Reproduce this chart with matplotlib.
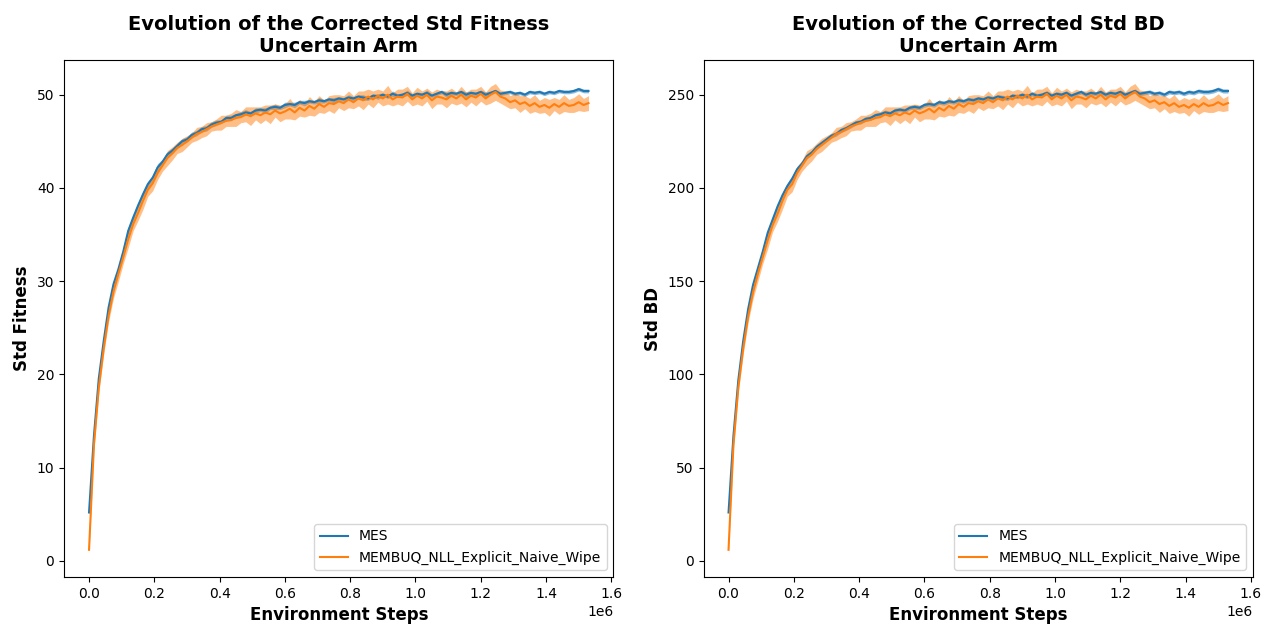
import numpy as np
import matplotlib
matplotlib.use("Agg")
import matplotlib.pyplot as plt

# environment steps (one entry every 15k steps)
steps = np.arange(0, 1530001, 15000)

labels = ["MES", "MEMBUQ_NLL_Explicit_Naive_Wipe"]

# std fitness, mean over seeds
fit_mes = [5.2, 13.4, 19.6, 23.6, 27.2, 29.7, 31.3, 33.2, 35.4, 36.8,
           38.1, 39.3, 40.4, 41.1, 42.2, 42.8, 43.6, 44.0, 44.5, 45.0,
           45.2, 45.7, 45.9, 46.3, 46.4, 46.8, 47.0, 47.1, 47.5, 47.5,
           47.8, 47.9, 48.1, 48.0, 48.3, 48.4, 48.3, 48.6, 48.7, 48.6,
           48.9, 49.0, 48.9, 49.2, 49.1, 49.3, 49.2, 49.4, 49.3, 49.5,
           49.4, 49.6, 49.5, 49.7, 49.6, 49.8, 49.7, 49.6, 49.9, 49.8,
           50.0, 49.8, 50.1, 49.9, 50.0, 50.2, 49.9, 50.1, 50.0, 50.2,
           49.9, 50.1, 50.3, 50.0, 50.2, 50.1, 50.3, 50.0, 50.2, 50.1,
           50.3, 50.0, 50.2, 50.4, 50.1, 50.2, 50.3, 50.1, 50.2, 50.0,
           50.3, 50.2, 50.3, 50.1, 50.3, 50.2, 50.4, 50.3, 50.3, 50.4,
           50.6, 50.4, 50.4]
fit_mes_std = [0.1, 0.2, 0.3, 0.3, 0.3, 0.3, 0.3, 0.3, 0.4, 0.3,
               0.3, 0.3, 0.3, 0.3, 0.4, 0.3, 0.3, 0.3, 0.3, 0.3,
               0.3, 0.3, 0.3, 0.3, 0.3, 0.3, 0.3, 0.2, 0.3, 0.3,
               0.2, 0.3, 0.3, 0.2, 0.3, 0.2, 0.3, 0.2, 0.3, 0.2,
               0.3, 0.2, 0.3, 0.2, 0.3, 0.2, 0.2, 0.3, 0.2, 0.2,
               0.3, 0.2, 0.2, 0.3, 0.2, 0.2, 0.3, 0.2, 0.2, 0.3,
               0.2, 0.2, 0.3, 0.2, 0.2, 0.3, 0.2, 0.2, 0.2, 0.3,
               0.2, 0.2, 0.2, 0.3, 0.2, 0.2, 0.2, 0.3, 0.2, 0.2,
               0.2, 0.3, 0.2, 0.2, 0.2, 0.2, 0.2, 0.2, 0.2, 0.2,
               0.2, 0.2, 0.2, 0.2, 0.2, 0.2, 0.2, 0.2, 0.2, 0.2,
               0.2, 0.2, 0.2]
fit_uq = [1.2, 12.4, 18.6, 22.8, 26.3, 28.9, 30.8, 32.6, 34.5, 36.1,
          37.3, 38.6, 39.8, 40.5, 41.6, 42.4, 43.2, 43.7, 44.3, 44.6,
          45.0, 45.4, 45.8, 46.0, 46.3, 46.6, 46.8, 47.0, 47.2, 47.3,
          47.5, 47.6, 47.9, 47.7, 48.0, 47.8, 48.1, 47.9, 48.3, 48.0,
          48.2, 48.5, 48.1, 48.6, 48.3, 48.8, 48.5, 49.0, 48.7, 49.1,
          49.0, 49.3, 49.1, 49.5, 49.2, 49.6, 49.4, 49.8, 49.5, 49.9,
          49.6, 50.0, 49.5, 49.8, 49.7, 50.1, 49.5, 49.9, 49.6, 50.0,
          49.4, 49.8, 49.7, 49.5, 49.9, 49.6, 50.0, 49.5, 49.9, 49.7,
          50.1, 49.6, 50.0, 50.3, 49.8, 49.6, 49.2, 49.4, 49.0, 49.2,
          48.8, 49.1, 48.7, 48.9, 48.6, 49.0, 48.7, 49.1, 48.8, 48.9,
          49.2, 48.9, 49.1]
fit_uq_std = [0.4, 0.4, 0.5, 0.6, 0.6, 0.7, 0.8, 0.7, 0.9, 0.7,
              0.8, 0.9, 0.7, 0.8, 0.7, 0.6, 0.8, 0.7, 0.6, 0.7,
              0.6, 0.5, 0.7, 0.6, 0.7, 0.5, 0.6, 0.8, 0.6, 0.7,
              0.9, 0.6, 0.8, 1.0, 0.7, 0.9, 0.8, 1.0, 0.7, 0.9,
              0.8, 1.1, 0.8, 0.9, 0.7, 1.0, 0.8, 0.9, 0.7, 0.8,
              1.0, 0.7, 0.8, 0.9, 0.7, 0.8, 1.0, 0.8, 0.9, 0.7,
              0.8, 1.0, 0.7, 0.8, 0.9, 0.8, 0.7, 0.9, 0.8, 0.7,
              0.9, 0.8, 0.7, 0.9, 0.8, 0.7, 0.9, 0.8, 0.7, 0.9,
              0.8, 0.7, 0.9, 0.9, 0.7, 0.8, 0.7, 0.8, 0.9, 0.7,
              0.8, 0.9, 0.7, 0.8, 0.9, 0.7, 0.8, 0.9, 0.7, 0.8,
              0.9, 0.7, 0.8]

# std BD, mean over seeds
bd_mes = [26.0, 67, 97, 118, 135, 148, 157, 166, 176, 183,
          190, 196, 201, 205, 210, 213, 217, 219, 222, 224,
          226, 228, 229, 231, 232, 233.5, 235, 235.5, 237, 237.5,
          239, 239.5, 240.5, 240, 241.5, 242, 241.5, 243, 243.5, 243,
          244.5, 245, 244.5, 246, 245.5, 246.5, 246, 247, 246.5, 247.5,
          247, 248, 247.5, 248.5, 248, 249, 248.5, 248, 249.5, 249,
          250, 249, 250.5, 249.5, 250, 251, 249.5, 250.5, 250, 251,
          249.5, 250.5, 251.5, 250, 251, 250.5, 251.5, 250, 251, 250.5,
          251.5, 250, 251, 252, 250.5, 251, 251.5, 250.5, 251, 250,
          251.5, 251, 251.5, 250.5, 251.5, 251, 252, 251.5, 251.5, 252,
          253, 252, 252]
bd_mes_std = [0.5, 1.0, 1.3, 1.4, 1.5, 1.5, 1.4, 1.5, 1.7, 1.5,
              1.5, 1.4, 1.5, 1.4, 1.6, 1.4, 1.4, 1.3, 1.4, 1.3,
              1.3, 1.3, 1.2, 1.3, 1.2, 1.3, 1.2, 1.2, 1.3, 1.2,
              1.2, 1.2, 1.3, 1.1, 1.2, 1.1, 1.2, 1.1, 1.2, 1.1,
              1.2, 1.1, 1.2, 1.1, 1.2, 1.1, 1.1, 1.2, 1.1, 1.1,
              1.2, 1.1, 1.1, 1.2, 1.1, 1.1, 1.2, 1.1, 1.1, 1.2,
              1.1, 1.1, 1.2, 1.1, 1.1, 1.2, 1.1, 1.1, 1.1, 1.2,
              1.1, 1.1, 1.1, 1.2, 1.1, 1.1, 1.1, 1.2, 1.1, 1.1,
              1.1, 1.2, 1.1, 1.1, 1.1, 1.1, 1.1, 1.1, 1.1, 1.1,
              1.1, 1.1, 1.1, 1.1, 1.1, 1.1, 1.1, 1.1, 1.1, 1.1,
              1.1, 1.1, 1.1]
bd_uq = [6, 62, 93, 114, 131, 144, 154, 163, 172, 180,
         186, 193, 199, 202, 208, 212, 216, 218, 221, 223,
         225, 227, 229, 230, 231.5, 233, 234, 235, 236, 236.5,
         237.5, 238, 239.5, 238.5, 240, 239, 240.5, 239.5, 241.5, 240,
         241, 242.5, 240.5, 243, 241.5, 244, 242.5, 245, 243.5, 245.5,
         245, 246.5, 245.5, 247.5, 246, 248, 247, 249, 247.5, 249.5,
         248, 250, 247.5, 249, 248.5, 250.5, 247.5, 249.5, 248, 250,
         247, 249, 248.5, 247.5, 249.5, 248, 250, 247.5, 249.5, 248.5,
         250.5, 248, 250, 251.5, 249, 248, 246, 247, 245, 246,
         244, 245.5, 243.5, 244.5, 243, 245, 243.5, 245.5, 244, 244.5,
         246, 244.5, 245.5]
bd_uq_std = [2.0, 2.0, 2.5, 3.0, 3.0, 3.5, 4.0, 3.5, 4.5, 3.5,
             4.0, 4.5, 3.5, 4.0, 3.5, 3.0, 4.0, 3.5, 3.0, 3.5,
             3.0, 2.5, 3.5, 3.0, 3.5, 2.5, 3.0, 4.0, 3.0, 3.5,
             4.5, 3.0, 4.0, 5.0, 3.5, 4.5, 4.0, 5.0, 3.5, 4.5,
             4.0, 5.5, 4.0, 4.5, 3.5, 5.0, 4.0, 4.5, 3.5, 4.0,
             5.0, 3.5, 4.0, 4.5, 3.5, 4.0, 5.0, 4.0, 4.5, 3.5,
             4.0, 5.0, 3.5, 4.0, 4.5, 4.0, 3.5, 4.5, 4.0, 3.5,
             4.5, 4.0, 3.5, 4.5, 4.0, 3.5, 4.5, 4.0, 3.5, 4.5,
             4.0, 3.5, 4.5, 4.5, 3.5, 4.0, 3.5, 4.0, 4.5, 3.5,
             4.0, 4.5, 3.5, 4.0, 4.5, 3.5, 4.0, 4.5, 3.5, 4.0,
             4.5, 3.5, 4.0]


def draw(ax, series, title, ylabel):
    for (mean, std), lab in zip(series, labels):
        mean = np.array(mean, dtype=float)
        std = np.array(std, dtype=float)
        line, = ax.plot(steps, mean, label=lab)
        ax.fill_between(steps, mean - std, mean + std,
                        color=line.get_color(), alpha=0.5, linewidth=0)
    ax.set_title(title, fontsize=14, fontweight="bold")
    ax.set_xlabel("Environment Steps", fontsize=12, fontweight="bold")
    ax.set_ylabel(ylabel, fontsize=12, fontweight="bold")
    ax.legend(loc="lower right")


fig, (ax1, ax2) = plt.subplots(1, 2, figsize=(12.71, 6.24), dpi=100)
fig.subplots_adjust(left=0.0504, right=0.9858, top=0.9038, bottom=0.0753,
                    wspace=0.164)

draw(ax1, [(fit_mes, fit_mes_std), (fit_uq, fit_uq_std)],
     "Evolution of the Corrected Std Fitness\nUncertain Arm", "Std Fitness")
draw(ax2, [(bd_mes, bd_mes_std), (bd_uq, bd_uq_std)],
     "Evolution of the Corrected Std BD\nUncertain Arm", "Std BD")

fig.savefig("out.png", dpi=100)
